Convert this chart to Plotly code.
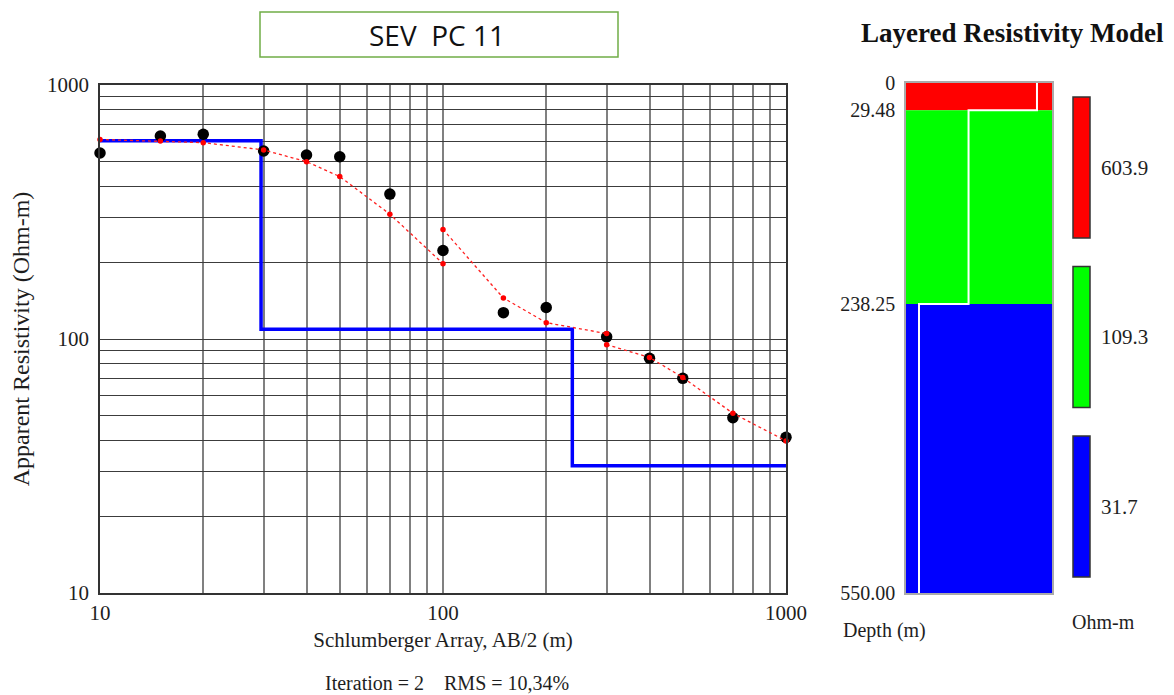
import plotly.graph_objects as go

# ---------------- data ----------------
ab2_obs = [10, 15, 20, 30, 40, 50, 70, 100, 150, 200, 300, 400, 500, 700, 1000]
rho_obs = [540, 630, 640, 550, 530, 522, 372, 223, 127, 133, 102, 84, 70, 49, 41]

calc_seg1_x = [10, 15, 20, 30, 40, 50, 70, 100]
calc_seg1_y = [610, 602, 593, 555, 499, 436, 310, 198]
calc_seg2_x = [100, 150, 200, 300]
calc_seg2_y = [270, 145, 116, 105]
calc_seg3_x = [300, 400, 500, 700, 1000]
calc_seg3_y = [95, 84.6, 70.6, 51, 39.7]

layer_rho = [603.9, 109.3, 31.7]
layer_top = [0, 29.48, 238.25]
max_depth = 550.00
layer_colors = ["#FF0000", "#00FF00", "#0000FF"]

x_ticks_major = [10, 100, 1000]
y_ticks_major = [10, 100, 1000]

title_text = "SEV\u00a0\u00a0PC 11"
iter_text = "Iteration = 2\u00a0\u00a0\u00a0\u00a0RMS = 10,34%"

# ---------------- helpers ----------------
# page body has an 8px margin; figure sized to fit the window
OFF = 8
W, H = 1174 - OFF, 695 - OFF
def px(x):
    return (x - OFF) / W
def py(y):
    return 1 - (y - OFF) / H

SERIF = "Liberation Serif, Times New Roman, serif"
TXT = "#1e1e1e"

grid_vals = [m * 10 ** e for e in (1, 2) for m in range(1, 10)] + [1000]
x_text = [str(v) if v in x_ticks_major else "" for v in grid_vals]
y_text = [str(v) if v in y_ticks_major else "" for v in grid_vals]

fig = go.Figure()

# model step line (blue)
step_x = [10] + layer_top[1:] + [1000]
step_y = layer_rho + [layer_rho[-1]]
fig.add_trace(go.Scatter(x=step_x, y=step_y, mode="lines", line_shape="hv",
                         line=dict(color="#0000FF", width=3.5),
                         xaxis="x", yaxis="y", showlegend=False))

# observed (black)
fig.add_trace(go.Scatter(x=ab2_obs, y=rho_obs, mode="markers", cliponaxis=False,
                         marker=dict(color="black", size=11.5),
                         xaxis="x", yaxis="y", showlegend=False))

# calculated segments (red dotted)
for sx, sy in [(calc_seg1_x, calc_seg1_y), (calc_seg2_x, calc_seg2_y), (calc_seg3_x, calc_seg3_y)]:
    fig.add_trace(go.Scatter(x=sx, y=sy, mode="lines+markers", cliponaxis=False,
                             line=dict(color="#FF2020", width=1.3, dash="dot"),
                             marker=dict(color="#FF0000", size=5.5),
                             xaxis="x", yaxis="y", showlegend=False))

# layered column white resistivity line
wx, wy = [], []
bottoms = layer_top[1:] + [max_depth]
for r, t, b in zip(layer_rho, layer_top, bottoms):
    wx += [r, r]
    wy += [t, b]
fig.add_trace(go.Scatter(x=wx, y=wy, mode="lines",
                         line=dict(color="white", width=2),
                         xaxis="x2", yaxis="y2", showlegend=False))

shapes = []
for c, t, b in zip(layer_colors, layer_top, bottoms):
    shapes.append(dict(type="rect", xref="x2 domain", yref="y2", x0=0, x1=1, y0=t, y1=b,
                       fillcolor=c, line=dict(width=0), layer="below"))

# legend bars
bar_x0, bar_x1 = px(1073), px(1090)
bar_top0, bar_h, bar_step = 97, 141, 169.5
annotations = []
for i, (c, r) in enumerate(zip(layer_colors, layer_rho)):
    t = bar_top0 + i * bar_step
    shapes.append(dict(type="rect", xref="paper", yref="paper", x0=bar_x0, x1=bar_x1,
                       y0=py(t + bar_h), y1=py(t), fillcolor=c,
                       line=dict(color="#333333", width=1.5)))
    annotations.append(dict(xref="paper", yref="paper", x=px(1099), y=py(t + bar_h / 2),
                            text=f"{r}", showarrow=False, xanchor="left", yanchor="middle",
                            font=dict(family=SERIF, size=21, color=TXT)))

# title box
shapes.append(dict(type="rect", xref="paper", yref="paper", x0=px(260), x1=px(618),
                   y0=py(57), y1=py(12), line=dict(color="#70AD47", width=1.5),
                   fillcolor="white"))
annotations += [
    dict(xref="paper", yref="paper", x=px(437), y=py(35), text=title_text, showarrow=False,
         xanchor="center", yanchor="middle", font=dict(family="Open Sans, sans-serif", size=28, color="#111")),
    dict(xref="paper", yref="paper", x=px(1012), y=py(33), text="<b>Layered Resistivity Model</b>",
         showarrow=False, xanchor="center", yanchor="middle", font=dict(family=SERIF, size=27, color="#111")),
    dict(xref="paper", yref="paper", x=px(447), y=py(683), text=iter_text, showarrow=False,
         xanchor="center", yanchor="middle", font=dict(family=SERIF, size=20, color=TXT)),
    dict(xref="paper", yref="paper", x=px(884), y=py(630), text="Depth (m)", showarrow=False,
         xanchor="center", yanchor="middle", font=dict(family=SERIF, size=20, color=TXT)),
    dict(xref="paper", yref="paper", x=px(1103), y=py(622), text="Ohm-m", showarrow=False,
         xanchor="center", yanchor="middle", font=dict(family=SERIF, size=20, color=TXT)),
]

depth_vals = layer_top + [max_depth]
depth_text = ["0"] + [f"{d:.2f}" for d in layer_top[1:]] + [f"{max_depth:.2f}"]

fig.update_layout(
    width=W, height=H, margin=dict(l=0, r=0, t=0, b=0),
    paper_bgcolor="white", plot_bgcolor="white",
    shapes=shapes, annotations=annotations,
    xaxis=dict(type="log", range=[1, 3], domain=[px(100), px(786)], anchor="y",
               tickvals=grid_vals, ticktext=x_text, showgrid=True, gridcolor="#808080", gridwidth=2,
               ticks="", tickfont=dict(family=SERIF, size=21, color=TXT),
               showline=True, mirror=True, linecolor="#333", linewidth=1.5, zeroline=False,
               title=dict(text="Schlumberger Array, AB/2 (m)", standoff=8,
                          font=dict(family=SERIF, size=21, color=TXT)),
               automargin=False),
    yaxis=dict(type="log", range=[1, 3], domain=[py(593), py(85)], anchor="x",
               tickvals=grid_vals, ticktext=y_text, showgrid=True, gridcolor="#3c3c3c", gridwidth=1.4,
               ticks="outside", ticklen=5, tickcolor="rgba(0,0,0,0)",
               tickfont=dict(family=SERIF, size=21, color=TXT),
               showline=True, mirror=True, linecolor="#333", linewidth=1.5, zeroline=False,
               title=dict(text="Apparent Resistivity (Ohm-m)", standoff=14,
                          font=dict(family=SERIF, size=24, color=TXT)),
               automargin=False),
    xaxis2=dict(type="log", range=[1.36, 2.944], domain=[px(906), px(1052)], anchor="y2",
                showgrid=False, showticklabels=False, ticks="", zeroline=False,
                showline=True, mirror=True, linecolor="#aaaaaa", linewidth=1.5, automargin=False),
    yaxis2=dict(range=[max_depth, 0], domain=[py(593), py(83)], anchor="x2",
                tickvals=depth_vals, ticktext=depth_text, showgrid=False, zeroline=False,
                ticks="outside", ticklen=5, tickcolor="rgba(0,0,0,0)",
                tickfont=dict(family=SERIF, size=20, color=TXT),
                showline=True, mirror=True, linecolor="#aaaaaa", linewidth=1.5, automargin=False),
)

fig.write_html("out.html")
